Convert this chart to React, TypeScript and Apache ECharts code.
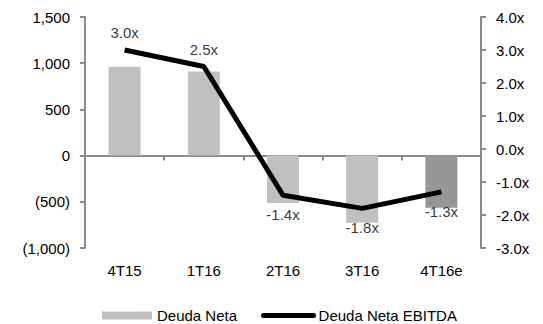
import React, { useEffect, useRef } from "react";
import * as echarts from "echarts";

const categories = ["4T15", "1T16", "2T16", "3T16", "4T16e"];
const deudaNeta = [962, 910, -513, -726, -564];
const deudaNetaEbitda = [3.0, 2.5, -1.4, -1.8, -1.3];
const leftTicks = { min: -1000, max: 1500, interval: 500 };
const rightTicks = { min: -3, max: 4, interval: 1 };

const FONT = "'Liberation Sans', Arial, sans-serif";
const FS = 15;
const AXIS_COLOR = "#8a8a8a";

export default function App() {
  const ref = useRef<HTMLDivElement>(null);
  useEffect(() => {
    if (!ref.current) return;
    const chart = echarts.init(ref.current, undefined, { renderer: "svg" });
    const fmtLeft = (v: number) => {
      const s = Math.abs(v).toLocaleString("en-US");
      return v < 0 ? `(${s})` : s;
    };
    chart.setOption({
      animation: false,
      textStyle: { fontFamily: FONT, color: "#000" },
      grid: { left: 85, right: 62, top: 17, bottom: 76 },
      legend: {
        left: 97,
        top: 303,
        itemGap: 24,
        itemWidth: 50,
        itemHeight: 8,
        textStyle: { fontFamily: FONT, fontSize: FS, color: "#000" },
        data: [
          { name: "Deuda Neta", icon: "rect" },
          {
            name: "Deuda Neta EBITDA",
            itemStyle: { opacity: 0 },
            lineStyle: { width: 5, cap: "round" },
          },
        ],
      },
      xAxis: [
        {
          type: "category",
          data: categories,
          position: "bottom",
          axisLine: { show: false, onZero: false },
          axisTick: { show: false },
          axisLabel: { fontFamily: FONT, fontSize: FS, color: "#000", margin: 15 },
        },
        {
          type: "category",
          data: categories,
          position: "bottom",
          axisLine: { show: true, onZero: true, onZeroAxisIndex: 0, lineStyle: { color: AXIS_COLOR, width: 2 } },
          axisTick: { show: true, length: 5, lineStyle: { color: AXIS_COLOR, width: 2 } },
          axisLabel: { show: false },
        },
      ],
      yAxis: [
        {
          type: "value",
          min: leftTicks.min,
          max: leftTicks.max,
          interval: leftTicks.interval,
          splitLine: { show: false },
          axisLine: { show: true, lineStyle: { color: AXIS_COLOR, width: 2 } },
          axisTick: { show: true, length: 5, lineStyle: { color: AXIS_COLOR, width: 2 } },
          axisLabel: { fontFamily: FONT, fontSize: FS, color: "#000", margin: 15, formatter: fmtLeft },
        },
        {
          type: "value",
          min: rightTicks.min,
          max: rightTicks.max,
          interval: rightTicks.interval,
          splitLine: { show: false },
          axisLine: { show: true, lineStyle: { color: AXIS_COLOR, width: 2 } },
          axisTick: { show: true, length: 5, lineStyle: { color: AXIS_COLOR, width: 2 } },
          axisLabel: {
            fontFamily: FONT,
            fontSize: FS,
            color: "#000",
            margin: 15,
            formatter: (v: number) => `${v.toFixed(1)}x`,
          },
        },
      ],
      series: [
        {
          name: "Deuda Neta",
          type: "bar",
          xAxisIndex: 0,
          yAxisIndex: 0,
          barWidth: 32,
          itemStyle: { color: "#c0c0c0" },
          data: deudaNeta.map((v, i) =>
            i === deudaNeta.length - 1 ? { value: v, itemStyle: { color: "#969696" } } : v
          ),
        },
        {
          name: "Deuda Neta EBITDA",
          type: "line",
          xAxisIndex: 0,
          yAxisIndex: 1,
          symbol: "none",
          lineStyle: { color: "#000", width: 5 },
          itemStyle: { color: "#000" },
          data: deudaNetaEbitda,
        },
        {
          name: "labels",
          type: "scatter",
          xAxisIndex: 0,
          yAxisIndex: 1,
          symbolSize: 0,
          itemStyle: { color: "transparent" },
          silent: true,
          data: deudaNetaEbitda.map((v) => ({
            value: v,
            label: {
              show: true,
              position: v >= 0 ? "top" : "bottom",
              distance: v >= 0 ? 10 : 12,
              formatter: `${v.toFixed(1)}x`,
              fontFamily: FONT,
              fontSize: FS,
              color: "#000",
            },
          })),
        },
      ],
    });
    return () => chart.dispose();
  }, []);
  return <div ref={ref} style={{ width: 543, height: 324, position: "absolute", left: 0, top: 0 }} />;
}
